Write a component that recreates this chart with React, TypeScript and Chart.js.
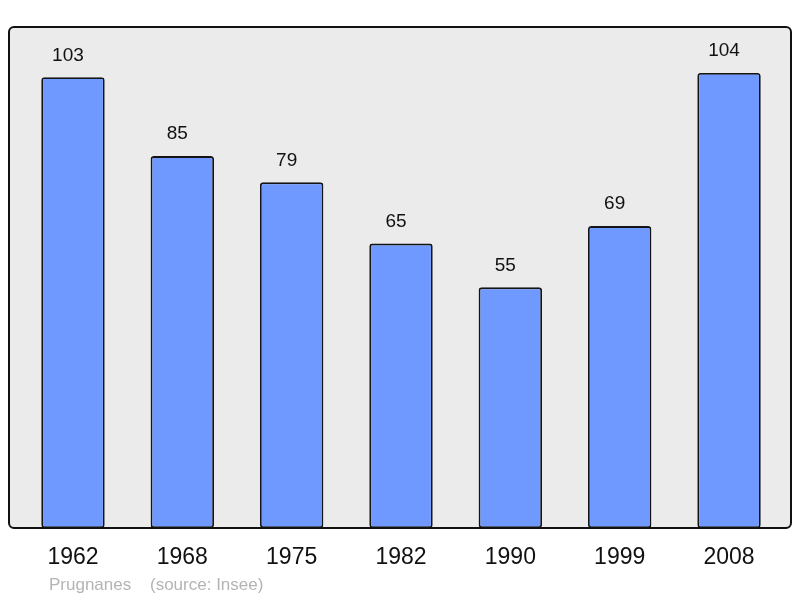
import React, { useEffect, useRef } from "react";
import { Chart, registerables } from "chart.js";

Chart.register(...registerables);

const years = ["1962", "1968", "1975", "1982", "1990", "1999", "2008"];
const population = [103, 85, 79, 65, 55, 69, 104];
const footerName = "Prugnanes";
const footerSource = "(source: Insee)";

const FONT = '"Liberation Sans", Arial, sans-serif';

const boxPlugin = {
  id: "boxPlugin",
  beforeDatasetsDraw(chart: any) {
    const { ctx, chartArea } = chart;
    ctx.save();
    ctx.beginPath();
    ctx.roundRect(9, chartArea.top, 782, chartArea.bottom - chartArea.top, 5);
    ctx.fillStyle = "#ebebeb";
    ctx.fill();
    ctx.restore();
  },
  afterDatasetsDraw(chart: any) {
    const { ctx, chartArea } = chart;
    ctx.save();
    ctx.beginPath();
    ctx.roundRect(9, chartArea.top, 782, chartArea.bottom - chartArea.top, 5);
    ctx.lineWidth = 2;
    ctx.strokeStyle = "#111";
    ctx.stroke();
    // value labels
    const meta = chart.getDatasetMeta(0);
    ctx.fillStyle = "#111";
    ctx.font = `19px ${FONT}`;
    ctx.textAlign = "center";
    ctx.textBaseline = "middle";
    meta.data.forEach((el: any, i: number) => {
      ctx.fillText(String(population[i]), el.x - 5, el.y - 22);
    });
    // footer
    ctx.fillStyle = "#b4b4b4";
    ctx.font = `17px ${FONT}`;
    ctx.textAlign = "left";
    ctx.fillText(footerName, 49, 585);
    ctx.fillText(footerSource, 150, 585);
    ctx.restore();
  },
};

export default function App() {
  const ref = useRef<HTMLCanvasElement>(null);
  useEffect(() => {
    document.body.style.margin = "0";
    const chart = new Chart(ref.current!, {
      type: "bar",
      data: {
        labels: years,
        datasets: [
          {
            data: population,
            backgroundColor: "#7099ff",
            borderColor: "#141414",
            borderWidth: 1.8,
            borderRadius: 3,
            borderSkipped: false,
            barPercentage: 0.58,
            categoryPercentage: 1,
          },
        ],
      },
      options: {
        responsive: false,
        animation: false,
        events: [],
        layout: { padding: { top: 27, left: 18.3, right: 16.3, bottom: 0 } },
        plugins: { legend: { display: false }, tooltip: { enabled: false }, title: { display: false } },
        scales: {
          y: { display: false, min: 0, max: 114.5 },
          x: {
            grid: { display: false, drawTicks: false },
            border: { display: false },
            ticks: { color: "#111", font: { size: 23, family: FONT }, padding: 16 },
            afterFit(scale: any) {
              scale.height = 70;
            },
          },
        },
      },
      plugins: [boxPlugin],
    });
    return () => chart.destroy();
  }, []);
  return <canvas ref={ref} width={800} height={598} />;
}
